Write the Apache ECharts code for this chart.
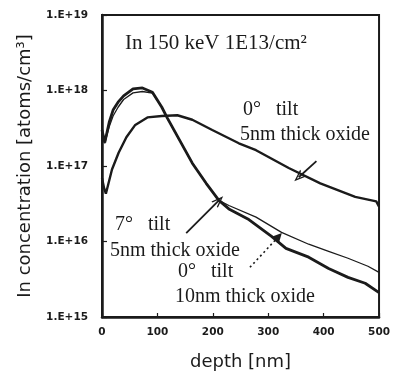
<!DOCTYPE html>
<html>
<head>
<meta charset="utf-8">
<script src="https://cdn.jsdelivr.net/npm/echarts@6/dist/echarts.min.js"></script>
<style>
html, body { margin: 0; padding: 0; background: #fff; }
#chart { width: 393px; height: 384px; }
</style>
</head>
<body>
<div id="chart"></div>
<script>
// depth [nm] / In concentration [atoms/cm3]
var depth0Tilt5nm = [0, 4, 7, 12, 18, 30, 44, 60, 82, 108, 136, 163, 199, 247, 278, 337, 394, 457, 495, 500]
var conc0Tilt5nm = [6.9e16, 5.0e16, 4.3e16, 6.0e16, 9.0e16, 1.5e17, 2.4e17, 3.5e17, 4.4e17, 4.6e17, 4.7e17, 4.1e17, 3.0e17, 2.0e17, 1.62e17, 9.4e16, 5.9e16, 3.9e16, 3.4e16, 2.9e16]

var depth0Tilt10nm = [0, 5, 13, 20, 29, 39, 56, 73, 91, 108, 118, 140, 163, 188, 211, 229, 265, 306, 332, 373, 409, 444, 475, 500]
var conc0Tilt10nm = [3.0e17, 2.05e17, 3.8e17, 5.5e17, 7.0e17, 8.5e17, 1.05e18, 1.08e18, 9.5e17, 6.0e17, 4.3e17, 2.2e17, 1.09e17, 5.9e16, 3.5e16, 2.7e16, 1.95e16, 1.17e16, 8.1e15, 6.2e15, 4.4e15, 3.35e15, 2.8e15, 2.1e15]

var depth7Tilt5nm = [0, 5, 13, 20, 29, 39, 56, 73, 91, 108, 118, 140, 163, 188, 211, 229, 278, 324, 373, 409, 444, 480, 500]
var conc7Tilt5nm = [3.0e17, 2.0e17, 3.3e17, 4.6e17, 6.0e17, 7.6e17, 9.3e17, 9.7e17, 9.2e17, 6.0e17, 4.3e17, 2.2e17, 1.09e17, 5.9e16, 3.5e16, 3.0e16, 2.1e16, 1.32e16, 9.2e15, 7.4e15, 6.0e15, 4.7e15, 3.9e15]

var xTicks = [0, 100, 200, 300, 400, 500]
var yTickLabels = ['1.E+15', '1.E+16', '1.E+17', '1.E+18', '1.E+19']

function pairs(xs, ys) {
  return xs.map(function(x, i) { return [x, ys[i]] })
}

var ink = '#1b1b1b'
var serif = '"Liberation Serif", "DejaVu Serif", serif'
// open "V" arrow head, tip at top
var openHead = 'path://M5,0 L10,14 L8.4,14 L5,4.2 L1.6,14 L0,14 Z'

var chart = echarts.init(document.getElementById('chart'))
chart.setOption({
  backgroundColor: '#fff',
  animation: false,
  grid: {
    left: 102,
    right: 12,
    top: 15,
    bottom: 67,
    show: true,
    borderColor: ink,
    borderWidth: 2
  },
  xAxis: {
    type: 'value',
    min: xTicks[0],
    max: xTicks[xTicks.length - 1],
    interval: 100,
    name: 'depth [nm]',
    nameLocation: 'middle',
    nameGap: 36,
    nameTextStyle: { fontFamily: 'DejaVu Sans', fontSize: 18, color: ink },
    axisLine: { lineStyle: { color: ink, width: 2.5 } },
    axisTick: { inside: true, length: 4, lineStyle: { color: ink, width: 1.2 } },
    axisLabel: { margin: 10, fontFamily: 'DejaVu Sans', fontWeight: 'bold', fontSize: 10.5, color: ink },
    splitLine: { show: false }
  },
  yAxis: {
    type: 'log',
    logBase: 10,
    min: 1e15,
    max: 1e19,
    name: 'In concentration [atoms/cm³]',
    nameLocation: 'middle',
    nameGap: 68,
    nameTextStyle: { fontFamily: 'DejaVu Sans', fontSize: 18, color: ink },
    axisLine: { show: true, lineStyle: { color: ink, width: 2.5 } },
    axisTick: { inside: true, length: 5, lineStyle: { color: ink, width: 1.2 } },
    minorTick: { show: false },
    axisLabel: {
      margin: 14,
      fontFamily: 'DejaVu Sans',
      fontWeight: 'bold',
      fontSize: 10.5,
      color: ink,
      formatter: function(v) {
        return yTickLabels[Math.round(Math.log10(v)) - 15]
      }
    },
    splitLine: { show: false }
  },
  series: [
    {
      name: '0° tilt 5nm thick oxide',
      type: 'line',
      data: pairs(depth0Tilt5nm, conc0Tilt5nm),
      symbol: 'none',
      lineStyle: { color: ink, width: 2.4 },
      markLine: {
        silent: true,
        animation: false,
        symbol: ['none', openHead],
        symbolSize: [9, 12],
        label: { show: false },
        lineStyle: { color: ink, width: 1.8, type: 'solid' },
        data: [
          [{ coord: [387, 1.16e17] }, { coord: [355, 7.1e16] }],
          [{ coord: [152, 1.29e16] }, { coord: [211, 3.5e16] }],
          [
            { coord: [267, 4.55e15], lineStyle: { type: [2, 3], width: 1.6, color: ink } },
            { coord: [319, 1.17e16], symbol: 'triangle', symbolSize: [9, 9] }
          ]
        ]
      }
    },
    {
      name: '0° tilt 10nm thick oxide',
      type: 'line',
      data: pairs(depth0Tilt10nm, conc0Tilt10nm),
      symbol: 'none',
      lineStyle: { color: ink, width: 2.8 }
    },
    {
      name: '7° tilt 5nm thick oxide',
      type: 'line',
      data: pairs(depth7Tilt5nm, conc7Tilt5nm),
      symbol: 'none',
      lineStyle: { color: ink, width: 1.3 }
    }
  ],
  graphic: [
    { type: 'text', left: 125, top: 33, style: { text: 'In 150 keV 1E13/cm²', font: '21px ' + serif, fill: ink } },
    { type: 'text', left: 243, top: 100, style: { text: '0°   tilt', font: '20px ' + serif, fill: ink } },
    { type: 'text', left: 240, top: 125, style: { text: '5nm thick oxide', font: '20px ' + serif, fill: ink } },
    { type: 'text', left: 115, top: 215, style: { text: '7°   tilt', font: '20px ' + serif, fill: ink } },
    { type: 'text', left: 110, top: 241, style: { text: '5nm thick oxide', font: '20px ' + serif, fill: ink } },
    { type: 'text', left: 178, top: 262, style: { text: '0°   tilt', font: '20px ' + serif, fill: ink } },
    { type: 'text', left: 175, top: 287, style: { text: '10nm thick oxide', font: '20px ' + serif, fill: ink } }
  ]
})
</script>
</body>
</html>
